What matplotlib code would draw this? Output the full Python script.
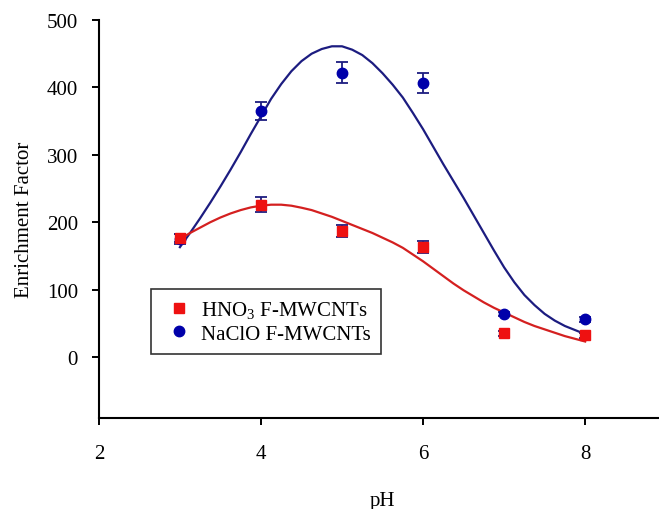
import matplotlib
matplotlib.use("Agg")
import matplotlib.pyplot as plt
from matplotlib.lines import Line2D

plt.rcParams["font.family"] = ["Liberation Serif", "DejaVu Serif"]
plt.rcParams["mathtext.fontset"] = "custom"
plt.rcParams["mathtext.rm"] = "Liberation Serif"

# measured points (pH, enrichment factor, error)
ph = [3, 4, 5, 6, 7, 8]
ef_hno3 = [176, 226, 187, 163, 35, 32]
err_hno3 = [6, 11, 9, 8.5, 4, 4]
ef_naclo = [175, 365, 422, 406, 64, 56]
err_naclo = [8, 14, 15, 15, 3, 4]

# fitted curves, every 0.125 pH
ph_fit = [3.0, 3.125, 3.25, 3.375, 3.5, 3.625, 3.75, 3.875, 4.0, 4.125, 4.25,
          4.375, 4.5, 4.625, 4.75, 4.875, 5.0, 5.125, 5.25, 5.375, 5.5,
          5.625, 5.75, 5.875, 6.0, 6.125, 6.25, 6.375, 6.5, 6.625, 6.75,
          6.875, 7.0, 7.125, 7.25, 7.375, 7.5, 7.625, 7.75, 7.875, 8.0]
fit_hno3 = [175, 184, 192, 200, 207, 213, 218, 222, 224.5, 226, 226,
            224.5, 221.5, 218, 213, 208, 202, 196, 190, 184, 177,
            170, 162, 152, 142, 131, 120, 109, 99, 90, 81,
            73, 66, 59, 52, 46, 41, 36, 31, 27, 23]
fit_naclo = [163, 184, 206, 229, 253, 278, 304, 331, 357, 383, 405,
             424, 439, 450, 457, 461, 461, 456, 448, 436, 421,
             404, 385, 362, 338, 312, 286, 261, 236, 210, 184,
             158, 133, 111, 92, 77, 64, 54, 46, 40, 34]

red = "#ee1111"
blue = "#0000aa"
navy = "#1c1c80"

fig = plt.figure(figsize=(6.59, 5.10), dpi=100)
ax = fig.add_axes([0.150, 0.1784, 0.861, 0.7804])

ax.plot(ph_fit, fit_naclo, color=navy, lw=1.6, zorder=2)
ax.plot(ph_fit, fit_hno3, color="#d42020", lw=1.6, zorder=2)

ax.errorbar(ph, ef_naclo, yerr=err_naclo, fmt="o", color=blue, ms=7.5,
            ecolor=navy, elinewidth=1.3, capsize=4.5, capthick=1.3, zorder=3)
ax.errorbar(ph, ef_hno3, yerr=err_hno3, fmt="s", color=red, ms=7,
            ecolor=navy, elinewidth=1.3, capsize=4.5, capthick=1.3, zorder=4)

ax.set_xlim(2, 9)
ax.set_ylim(-90.5, 500)
ax.set_xticks([2, 4, 6, 8])
ax.set_yticks([0, 100, 200, 300, 400, 500])

for side in ["top", "right"]:
    ax.spines[side].set_visible(False)
for side in ["left", "bottom"]:
    ax.spines[side].set_linewidth(1.5)
ax.tick_params(axis="both", direction="out", length=5, width=1.4, labelsize=15)
ax.tick_params(axis="x", pad=14)
ax.tick_params(axis="y", pad=10)

ax.set_xlabel("pH", fontsize=15, labelpad=20)
ax.set_ylabel("Enrichment Factor", fontsize=15, labelpad=9)

handles = [
    Line2D([], [], ls="none", marker="s", color=red, ms=7),
    Line2D([], [], ls="none", marker="o", color=blue, ms=7.5),
]
labels = [r"HNO$_\mathregular{3}$ F-MWCNTs", "NaClO F-MWCNTs"]
leg = ax.legend(handles, labels, loc="upper left", bbox_to_anchor=(0.0917, 0.324),
                borderaxespad=0, fontsize=15, fancybox=False, frameon=True,
                handlelength=1.7, handletextpad=0.2, labelspacing=0.15,
                borderpad=0.5)
leg.get_frame().set_edgecolor("black")
leg.get_frame().set_linewidth(1.2)

fig.savefig("out.png", dpi=100)
